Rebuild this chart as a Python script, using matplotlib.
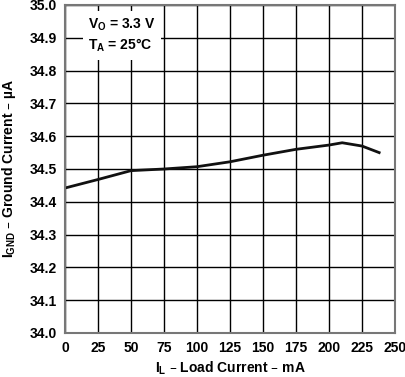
import matplotlib
matplotlib.use("Agg")
import matplotlib.pyplot as plt

load_current = [0, 25, 50, 75, 100, 125, 150, 175, 200, 210, 225, 238]
ground_current = [34.442, 34.468, 34.495, 34.50, 34.507, 34.522, 34.542, 34.560, 34.573, 34.580, 34.570, 34.550]
xticks = [0, 25, 50, 75, 100, 125, 150, 175, 200, 225, 250]
yticks = [34.0, 34.1, 34.2, 34.3, 34.4, 34.5, 34.6, 34.7, 34.8, 34.9, 35.0]

plt.rcParams['font.family'] = ['Liberation Sans', 'DejaVu Sans']
plt.rcParams['font.weight'] = 'bold'

fig = plt.figure(figsize=(4.06, 3.77), dpi=100)
ax = fig.add_axes([65/406, 1-333/377, 330/406, 328/377])
ax.set_xlim(0, 250)
ax.set_ylim(34.0, 35.0)
ax.set_xticks(xticks)
ax.set_yticks(yticks)
ax.set_xticklabels([str(t) for t in xticks], fontsize=10, fontweight='bold')
ax.set_yticklabels([f"{t:.1f}" for t in yticks], fontsize=10, fontweight='bold')
ax.grid(True, color='black', linewidth=1.0)
ax.tick_params(length=0, pad=6)
for s in ax.spines.values():
    s.set_color('#777777')
    s.set_linewidth(1.5)
ax.plot(load_current, ground_current, color='#111111', linewidth=2.0)
ax.set_xlabel(r'I$_\mathregular{L}$ – Load Current – mA', fontsize=10, fontweight='bold', labelpad=3)
ax.set_ylabel(r'I$_\mathregular{GND}$ – Ground Current – µA', fontsize=10, fontweight='bold', labelpad=8)
ax.text(0.07, 0.965, 'V$_\\mathregular{O}$ = 3.3 V\nT$_\\mathregular{A}$ = 25°C', transform=ax.transAxes,
        fontsize=10, fontweight='bold', va='top', ha='left', linespacing=1.3,
        bbox=dict(facecolor='white', edgecolor='none', pad=4))
fig.savefig('out.png', dpi=100)
